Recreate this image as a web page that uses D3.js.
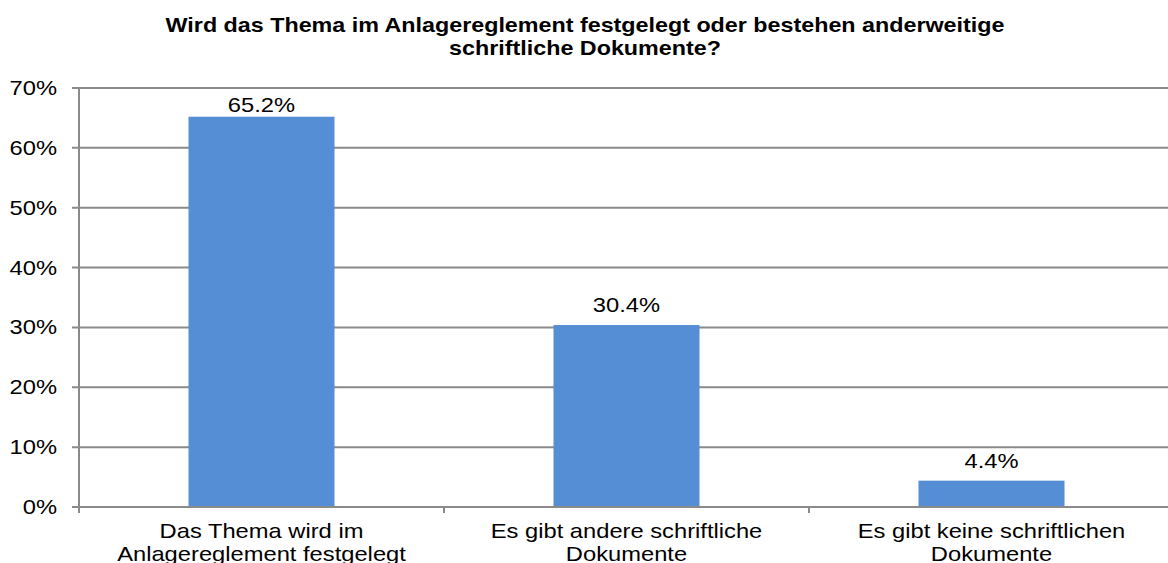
<!DOCTYPE html>
<html>
<head>
<meta charset="utf-8">
<script src="https://cdn.jsdelivr.net/npm/d3@7"></script>
<style>
  body { margin: 0; background: #fff; }
  svg { font-family: "Liberation Sans", Arial, sans-serif; }
</style>
</head>
<body>
<svg id="chart" width="1168" height="563"></svg>
<script>
var categories = [
  ["Das Thema wird im", "Anlagereglement festgelegt"],
  ["Es gibt andere schriftliche", "Dokumente"],
  ["Es gibt keine schriftlichen", "Dokumente"]
];
var values = [65.2, 30.4, 4.4];
var yTicks = [0, 10, 20, 30, 40, 50, 60, 70];
var titleLines = [
  "Wird das Thema im Anlagereglement festgelegt oder bestehen anderweitige",
  "schriftliche Dokumente?"
];

var svg = d3.select('#chart');
var mLeft = 79, mRight = 1174, mTop = 88, mBottom = 507;
var SX = 1.13; // the original is a bit stretched sideways
var GRID = '#8a8a8a';

var x = d3.scaleBand()
  .domain(d3.range(values.length))
  .range([mLeft, mRight]);

var y = d3.scaleLinear()
  .domain([0, 70])
  .range([mBottom, mTop]);

function stretched(sel, px, py, sx){
  sx = sx || SX;
  return sel.attr('transform', (d, i) => 'translate(' + px(d, i) + ',' + py(d, i) + ') scale(' + sx + ',1)');
}

// title
stretched(svg.selectAll('.title')
  .data(titleLines)
  .enter()
  .append('text')
  .attr('class', 'title')
  .attr('text-anchor', 'middle')
  .style('font-size', '20px')
  .style('font-weight', 'bold')
  .style('fill', '#000')
  .text(d => d), () => 585, (d, i) => 32 + i * 23, 1.165);

// gridlines
svg.selectAll('.grid')
  .data(yTicks.filter(d => d > 0))
  .enter()
  .append('line')
  .attr('class', 'grid')
  .attr('x1', mLeft - 7)
  .attr('x2', 1168)
  .attr('y1', d => y(d))
  .attr('y2', d => y(d))
  .style('stroke', GRID)
  .style('stroke-width', 2);

// y tick labels
stretched(svg.selectAll('.ylab')
  .data(yTicks)
  .enter()
  .append('text')
  .attr('class', 'ylab')
  .attr('text-anchor', 'end')
  .style('font-size', '21px')
  .style('fill', '#000')
  .text(d => d + '%'), () => 57, d => y(d) + 7);

// bars
var bw = x.bandwidth() * 0.4;
svg.selectAll('.bar')
  .data(values)
  .enter()
  .append('rect')
  .attr('class', 'bar')
  .attr('x', (d, i) => x(i) + (x.bandwidth() - bw) / 2)
  .attr('y', d => y(d))
  .attr('width', bw)
  .attr('height', d => mBottom - y(d))
  .attr('fill', '#558ed5');

// value labels (kept inside the plot area at the top)
stretched(svg.selectAll('.vlab')
  .data(values)
  .enter()
  .append('text')
  .attr('class', 'vlab')
  .attr('text-anchor', 'middle')
  .style('font-size', '21px')
  .style('fill', '#000')
  .text(d => d.toFixed(1) + '%'),
  (d, i) => x(i) + x.bandwidth() / 2,
  d => Math.max(y(d) - 13, mTop + 24));

// axis lines
svg.append('line')
  .attr('x1', mLeft).attr('x2', mLeft)
  .attr('y1', mTop).attr('y2', mBottom + 6)
  .style('stroke', GRID).style('stroke-width', 2);
svg.append('line')
  .attr('x1', mLeft - 7).attr('x2', 1168)
  .attr('y1', mBottom).attr('y2', mBottom)
  .style('stroke', GRID).style('stroke-width', 2);

// category ticks
svg.selectAll('.xtick')
  .data(d3.range(1, values.length))
  .enter()
  .append('line')
  .attr('class', 'xtick')
  .attr('x1', d => x(d)).attr('x2', d => x(d))
  .attr('y1', mBottom).attr('y2', mBottom + 6)
  .style('stroke', GRID).style('stroke-width', 2);

// category labels
categories.forEach(function(lines, i){
  stretched(svg.selectAll('.xlab' + i)
    .data(lines)
    .enter()
    .append('text')
    .attr('class', 'xlab xlab' + i)
    .attr('text-anchor', 'middle')
    .style('font-size', '21px')
    .style('fill', '#000')
    .text(d => d), () => x(i) + x.bandwidth() / 2, (d, j) => 538 + j * 23);
});
</script>
</body>
</html>
